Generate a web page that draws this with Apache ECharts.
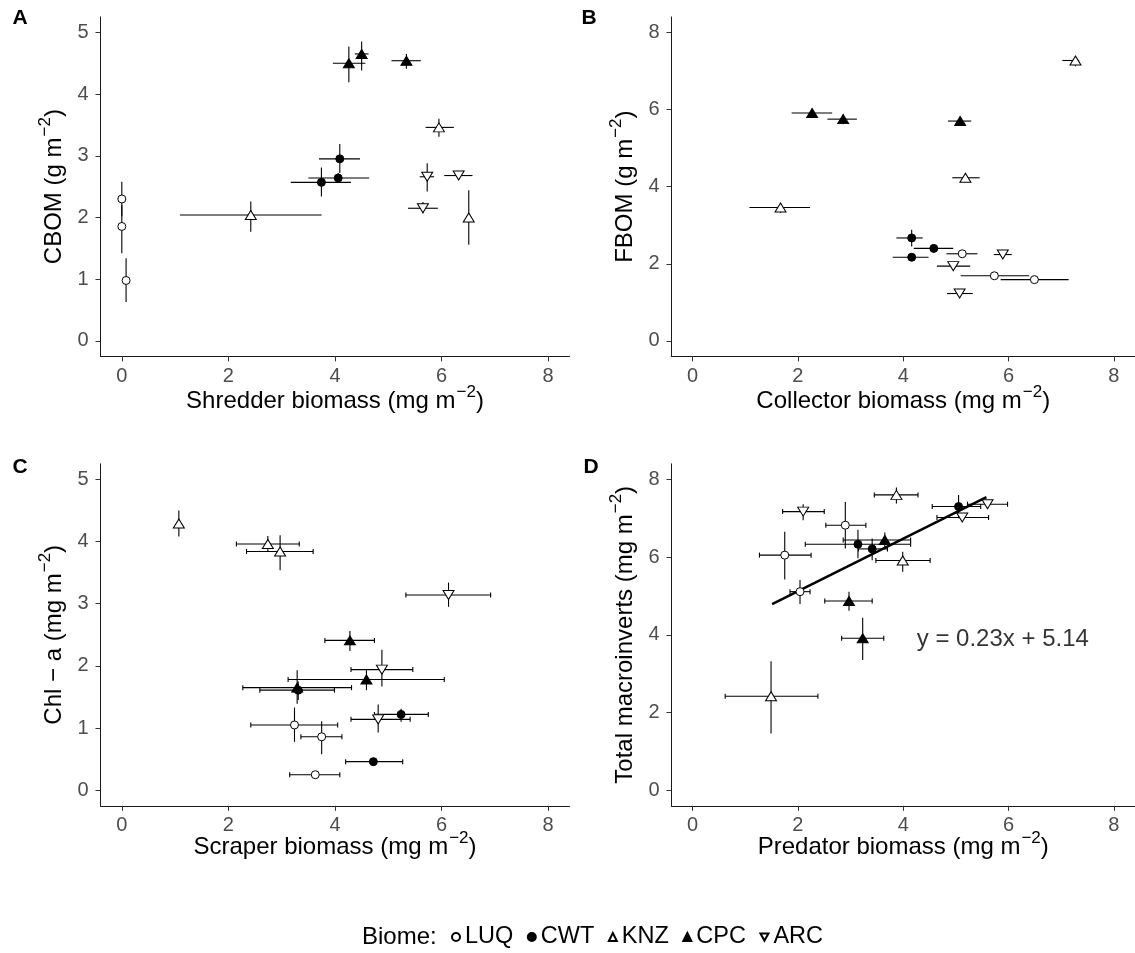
<!DOCTYPE html>
<html>
<head>
<meta charset="utf-8">
<script src="https://cdn.jsdelivr.net/npm/echarts@6/dist/echarts.min.js"></script>
<style>
  html, body { margin: 0; padding: 0; background: #fff; }
  #chart { width: 1135px; height: 953px; }
</style>
</head>
<body>
<div id="chart"></div>
<script>
// ---------------- data ----------------
const biomes = ['LUQ', 'CWT', 'KNZ', 'CPC', 'ARC'];
const xTickValues = [0, 2, 4, 6, 8];
const yTicksSmall = [0, 1, 2, 3, 4, 5];
const yTicksLarge = [0, 2, 4, 6, 8];

const panelLetters = ['A', 'B', 'C', 'D'];
const xTitles = ['Shredder biomass', 'Collector biomass', 'Scraper biomass', 'Predator biomass'];
const yTitles = ['CBOM', 'FBOM', 'Chl \u2212 a', 'Total macroinverts'];
const yUnits = ['g', 'g', 'mg', 'mg'];

// rows: [biome, x, y, xLow, xHigh, yLow, yHigh]
const panelA = [
  ['LUQ', 0.00, 2.30, 0.00, 0.00, 2.02, 2.58],
  ['LUQ', 0.00, 1.855, 0.00, 0.00, 1.42, 2.20],
  ['LUQ', 0.08, 0.98, 0.06, 0.10, 0.63, 1.34],
  ['CWT', 3.745, 2.57, 3.17, 4.30, 2.34, 2.81],
  ['CWT', 4.06, 2.64, 3.50, 4.64, 2.57, 2.72],
  ['CWT', 4.09, 2.95, 3.70, 4.47, 2.72, 3.19],
  ['KNZ', 2.42, 2.04, 1.09, 3.75, 1.77, 2.26],
  ['KNZ', 5.95, 3.46, 5.70, 6.23, 3.31, 3.60],
  ['KNZ', 6.51, 2.00, 6.48, 6.54, 1.56, 2.44],
  ['CPC', 4.26, 4.50, 3.96, 4.57, 4.19, 4.77],
  ['CPC', 4.50, 4.65, 4.37, 4.63, 4.38, 4.85],
  ['CPC', 5.34, 4.54, 5.06, 5.61, 4.41, 4.65],
  ['ARC', 5.73, 2.66, 5.59, 5.86, 2.42, 2.88],
  ['ARC', 6.32, 2.68, 6.05, 6.58, 2.61, 2.74],
  ['ARC', 5.65, 2.15, 5.37, 5.93, 2.07, 2.25]
];
const panelB = [
  ['LUQ', 5.12, 2.26, 4.82, 5.41, 2.20, 2.30],
  ['LUQ', 5.73, 1.69, 5.09, 6.39, 1.65, 1.73],
  ['LUQ', 6.49, 1.59, 5.85, 7.14, 1.50, 1.68],
  ['CWT', 4.16, 2.67, 3.87, 4.37, 2.45, 2.88],
  ['CWT', 4.58, 2.40, 4.20, 4.95, 2.36, 2.44],
  ['CWT', 4.16, 2.17, 3.80, 4.48, 2.10, 2.24],
  ['KNZ', 1.67, 3.46, 1.08, 2.23, 3.32, 3.55],
  ['KNZ', 5.18, 4.23, 4.93, 5.45, 4.15, 4.30],
  ['KNZ', 7.27, 7.27, 7.02, 7.34, 7.12, 7.37],
  ['CPC', 2.27, 5.91, 1.88, 2.65, 5.80, 6.02],
  ['CPC', 2.86, 5.75, 2.56, 3.12, 5.62, 5.87],
  ['CPC', 5.08, 5.70, 4.85, 5.29, 5.58, 5.82],
  ['ARC', 5.89, 2.24, 5.72, 6.06, 2.14, 2.32],
  ['ARC', 4.95, 1.94, 4.64, 5.27, 1.85, 2.00],
  ['ARC', 5.07, 1.23, 4.83, 5.32, 1.15, 1.30]
];
const panelC = [
  ['LUQ', 3.24, 1.05, 2.42, 4.05, 0.78, 1.33],
  ['LUQ', 3.75, 0.86, 3.36, 4.13, 0.58, 1.11],
  ['LUQ', 3.63, 0.25, 3.15, 4.09, 0.22, 0.28],
  ['CWT', 3.31, 1.61, 2.59, 3.99, 1.45, 1.75],
  ['CWT', 5.24, 1.22, 4.74, 5.75, 1.10, 1.31],
  ['CWT', 4.72, 0.46, 4.20, 5.27, 0.42, 0.50],
  ['KNZ', 1.07, 4.29, 1.05, 1.09, 4.08, 4.50],
  ['KNZ', 2.74, 3.96, 2.15, 3.33, 3.84, 4.09],
  ['KNZ', 2.97, 3.84, 2.34, 3.59, 3.54, 4.10],
  ['CPC', 4.28, 2.41, 3.81, 4.74, 2.24, 2.56],
  ['CPC', 4.59, 1.78, 3.12, 6.05, 1.61, 1.93],
  ['CPC', 3.29, 1.65, 2.27, 4.31, 1.39, 1.93],
  ['ARC', 6.13, 3.14, 5.33, 6.92, 2.95, 3.34],
  ['ARC', 4.88, 1.94, 4.30, 5.46, 1.67, 2.26],
  ['ARC', 4.81, 1.14, 4.30, 5.41, 0.93, 1.38]
];
const panelD = [
  ['LUQ', 1.75, 6.05, 1.27, 2.25, 5.42, 6.65],
  ['LUQ', 2.90, 6.82, 2.53, 3.29, 6.22, 7.42],
  ['LUQ', 2.04, 5.11, 1.85, 2.23, 4.79, 5.41],
  ['CWT', 3.14, 6.33, 2.14, 4.14, 5.97, 6.70],
  ['CWT', 3.41, 6.21, 3.15, 3.70, 5.92, 6.48],
  ['CWT', 5.05, 7.30, 4.55, 5.47, 7.00, 7.60],
  ['KNZ', 1.49, 2.42, 0.62, 2.38, 1.46, 3.32],
  ['KNZ', 3.87, 7.60, 3.45, 4.28, 7.38, 7.79],
  ['KNZ', 3.99, 5.91, 3.48, 4.51, 5.62, 6.14],
  ['CPC', 3.65, 6.44, 2.86, 4.14, 6.22, 6.63],
  ['CPC', 2.97, 4.87, 2.51, 3.41, 4.62, 5.11],
  ['CPC', 3.23, 3.91, 2.83, 3.63, 3.35, 4.44],
  ['ARC', 2.10, 7.17, 1.71, 2.50, 6.95, 7.36],
  ['ARC', 5.12, 7.02, 4.64, 5.62, 6.94, 7.10],
  ['ARC', 5.60, 7.36, 5.22, 5.98, 7.28, 7.44]
];
// fitted line in panel D (endpoints as drawn)
const fitX = [1.51, 5.58];
const fitY = [4.79, 7.54];
const equationText = 'y = 0.23x + 5.14';
const equationPos = [5.89, 3.89];

// ---------------- styling ----------------
const FONT = '"Liberation Sans", Arial, Helvetica, sans-serif';
const panels = [panelA, panelB, panelC, panelD];
const yMax = [5, 8, 5, 8];
const yTickSets = [yTicksSmall, yTicksLarge, yTicksSmall, yTicksLarge];
const capSize = [0, 0, 2.5, 2.5];
const xNameGap = [27, 27, 24, 24];

const grids = [
  { left: 100.5, top: 16.9, width: 469, height: 339.5 },
  { left: 671.5, top: 16.9, width: 467.5, height: 339.5 },
  { left: 100.5, top: 463.8, width: 469, height: 342 },
  { left: 671.5, top: 463.8, width: 467.5, height: 342 }
];

const DOWN_TRIANGLE = 'path://M0,0L10,0L5,9Z';
const symbolFor = {
  LUQ: { symbol: 'circle', size: 8, fill: '#ffffff' },
  CWT: { symbol: 'circle', size: 8, fill: '#000000' },
  KNZ: { symbol: 'triangle', size: [11, 9], fill: '#ffffff' },
  CPC: { symbol: 'triangle', size: [11, 9], fill: '#000000' },
  ARC: { symbol: DOWN_TRIANGLE, size: [11, 9], fill: '#ffffff' }
};

function unitName(title, unit) {
  return '{t|' + title + ' (' + unit + ' m}{s|\u22122}{t|)}';
}
const nameRich = {
  t: { fontSize: 24, fontFamily: FONT, color: '#000', lineHeight: 30, verticalAlign: 'bottom' },
  s: { fontSize: 17, fontFamily: FONT, color: '#000', lineHeight: 30, verticalAlign: 'top', padding: [0, 0, 0, 1] }
};

const xAxes = [], yAxes = [], series = [];
panels.forEach((rows, i) => {
  const lo = -0.05 * yMax[i];
  const hi = yMax[i] * 1.05;
  xAxes.push({
    type: 'value', gridIndex: i, min: -0.4, max: 8.4,
    name: unitName(xTitles[i], 'mg'), nameLocation: 'middle', nameGap: xNameGap[i],
    nameMoveOverlap: false,
    nameTextStyle: { rich: nameRich },
    splitLine: { show: false },
    axisLine: { onZero: false, lineStyle: { color: '#1a1a1a', width: 1 } },
    axisTick: { customValues: xTickValues, length: 5, lineStyle: { color: '#333', width: 1 } },
    axisLabel: { customValues: xTickValues, margin: 10, fontSize: 20, fontFamily: FONT, color: '#4d4d4d' }
  });
  yAxes.push({
    type: 'value', gridIndex: i, min: lo, max: hi,
    name: unitName(yTitles[i], yUnits[i]), nameLocation: 'middle', nameGap: 34, nameRotate: 90,
    nameMoveOverlap: false,
    nameTextStyle: { rich: nameRich },
    splitLine: { show: false },
    axisLine: { onZero: false, lineStyle: { color: '#1a1a1a', width: 1 } },
    axisTick: { customValues: yTickSets[i], length: 5, lineStyle: { color: '#333', width: 1 } },
    axisLabel: { customValues: yTickSets[i], margin: 12, fontSize: 20, fontFamily: FONT, color: '#4d4d4d' }
  });

  // error bars
  const cap = capSize[i];
  series.push({
    type: 'custom', name: 'err' + i, xAxisIndex: i, yAxisIndex: i, z: 2,
    data: rows.map(r => r.slice(1)),
    encode: { x: 0, y: 1 },
    renderItem: function (params, api) {
      const x = api.value(0), y = api.value(1);
      const pL = api.coord([api.value(2), y]);
      const pR = api.coord([api.value(3), y]);
      const pB = api.coord([x, api.value(4)]);
      const pT = api.coord([x, api.value(5)]);
      const st = { stroke: '#000', lineWidth: 1.1 };
      const ch = [
        { type: 'line', shape: { x1: pL[0], y1: pL[1], x2: pR[0], y2: pR[1] }, style: st },
        { type: 'line', shape: { x1: pB[0], y1: pB[1], x2: pT[0], y2: pT[1] }, style: st }
      ];
      if (cap > 0 && pR[0] - pL[0] > 2) {
        ch.push({ type: 'line', shape: { x1: pL[0], y1: pL[1] - cap, x2: pL[0], y2: pL[1] + cap }, style: st });
        ch.push({ type: 'line', shape: { x1: pR[0], y1: pR[1] - cap, x2: pR[0], y2: pR[1] + cap }, style: st });
      }
      return { type: 'group', children: ch };
    }
  });

  if (i === 3) {
    series.push({
      type: 'line', name: 'fit', xAxisIndex: 3, yAxisIndex: 3, z: 3,
      data: fitX.map((v, k) => [v, fitY[k]]),
      symbol: 'none', lineStyle: { color: '#000', width: 2.5 }, silent: true
    });
    series.push({
      type: 'scatter', name: 'equation', xAxisIndex: 3, yAxisIndex: 3, z: 5,
      data: [equationPos], symbolSize: 1, itemStyle: { color: 'rgba(0,0,0,0)' },
      label: { show: true, position: 'inside', formatter: equationText, fontSize: 24, fontFamily: FONT, color: '#000' },
      silent: true
    });
  }

  biomes.forEach(b => {
    const s = symbolFor[b];
    series.push({
      type: 'scatter', name: b, xAxisIndex: i, yAxisIndex: i, z: 4,
      data: rows.filter(r => r[0] === b).map(r => [r[1], r[2]]),
      symbol: s.symbol, symbolSize: s.size,
      itemStyle: { color: s.fill, borderColor: '#000', borderWidth: 1, opacity: 1 },
      emphasis: { disabled: true }
    });
  });
});

const letterPos = [[20, 18], [589, 18], [20, 467], [591, 467]];
const graphics = panelLetters.map((L, i) => ({
  type: 'text', x: letterPos[i][0], y: letterPos[i][1],
  style: { text: L, font: 'bold 21px ' + FONT, fill: '#000', align: 'center', verticalAlign: 'middle' }
}));
graphics.push({
  type: 'text', x: 362, y: 937,
  style: { text: 'Biome:', font: '24px ' + FONT, fill: '#000', align: 'left', verticalAlign: 'middle' }
});

const chart = echarts.init(document.getElementById('chart'), null, { renderer: 'canvas' });
chart.setOption({
  animation: false,
  backgroundColor: '#ffffff',
  grid: grids,
  xAxis: xAxes,
  yAxis: yAxes,
  legend: {
    data: biomes, left: 451, top: 925, orient: 'horizontal', padding: 0,
    itemWidth: 8, itemHeight: 8, itemGap: 13.5,
    textStyle: { fontSize: 23.5, fontFamily: FONT, color: '#000' },
    selectedMode: false
  },
  graphic: graphics,
  series: series
});
</script>
</body>
</html>
